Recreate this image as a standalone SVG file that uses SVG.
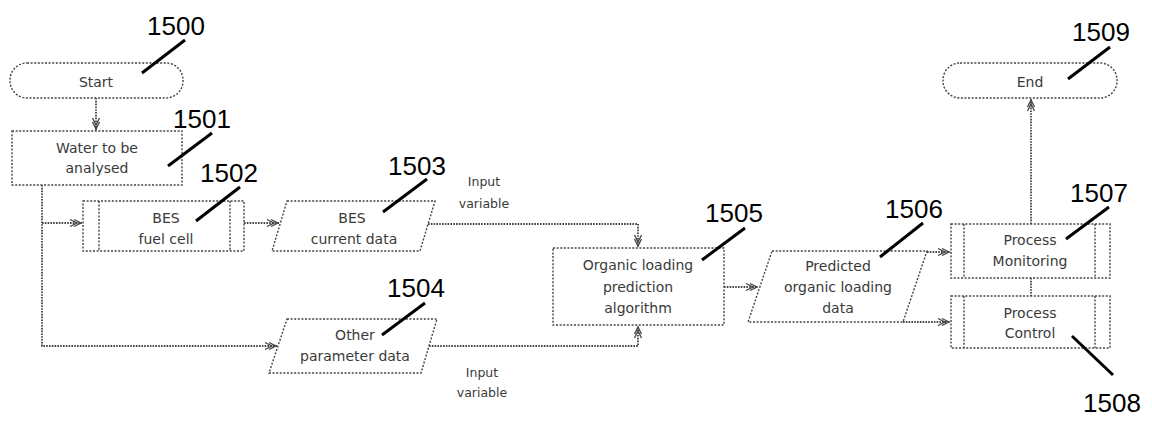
<svg xmlns="http://www.w3.org/2000/svg" width="1152" height="421" viewBox="0 0 1152 421">
<defs>
<marker id="arr" viewBox="-6 0 14 10" refX="7" refY="5" markerWidth="14" markerHeight="10" markerUnits="userSpaceOnUse" orient="auto">
<path d="M-5,1.5 L2,5 L-5,8.5 M-1,1.5 L6,5 L-1,8.5" fill="none" stroke="#444" stroke-width="1.3"/>
</marker>
</defs>
<style>
.box{fill:#fff;stroke:#444;stroke-width:1.4;stroke-dasharray:2 1.6}
.conn{fill:none;stroke:#444;stroke-width:1.8;stroke-dasharray:1.6 1.2}
.t{font-family:"DejaVu Sans",sans-serif;font-size:14px;fill:#3a3a3a;text-anchor:middle}
.s{font-family:"DejaVu Sans",sans-serif;font-size:12.5px;fill:#3a3a3a;text-anchor:middle}
.num{font-family:"Liberation Sans",Arial,sans-serif;font-size:26px;fill:#000}
.lead{stroke:#000;stroke-width:3;fill:none}
</style>
<g id="connectors">
<path class="conn" d="M96,98 V130" marker-end="url(#arr)"/>
<path class="conn" d="M42,185 V346 H277" marker-end="url(#arr)"/>
<path class="conn" d="M42,223 H82" marker-end="url(#arr)"/>
<path class="conn" d="M244,223 H279" marker-end="url(#arr)"/>
<path class="conn" d="M428,224 H638 V247" marker-end="url(#arr)"/>
<path class="conn" d="M429,346 H638 V326" marker-end="url(#arr)"/>
<path class="conn" d="M724,287 H758" marker-end="url(#arr)"/>
<path class="conn" d="M927,252 H950" marker-end="url(#arr)"/>
<path class="conn" d="M903,322 H950" marker-end="url(#arr)"/>
<path class="conn" d="M1031,278 V296"/>
<path class="conn" d="M1031,224 V99" marker-end="url(#arr)"/>
</g>
<g id="n1500">
<rect class="box" x="10" y="63" width="173" height="35" rx="17" ry="17"/>
<text class="t" x="96" y="87">Start</text>
<text class="num" x="147" y="35">1500</text>
<path class="lead" d="M185,40 L142,73"/>
</g>
<g id="n1501">
<rect class="box" x="12" y="131" width="170" height="54"/>
<text class="t" x="97" y="153">Water to be</text>
<text class="t" x="97" y="173">analysed</text>
<text class="num" x="173" y="128">1501</text>
<path class="lead" d="M212,133 L168,166"/>
</g>
<g id="n1502">
<rect class="box" x="83" y="201" width="161" height="50"/>
<path class="box" d="M99,201 V251 M230,201 V251"/>
<text class="t" x="166" y="223">BES</text>
<text class="t" x="166" y="244">fuel cell</text>
<text class="num" x="200" y="182">1502</text>
<path class="lead" d="M240,187 L196,221"/>
</g>
<g id="n1503">
<path class="box" d="M287,201 H435 L420,251 H272 Z"/>
<text class="t" x="352" y="223">BES</text>
<text class="t" x="354" y="244">current data</text>
<text class="num" x="388" y="175">1503</text>
<path class="lead" d="M427,179 L383,212"/>
</g>
<g id="n1504">
<path class="box" d="M287,319 H437 L421,373 H269 Z"/>
<text class="t" x="355" y="340">Other</text>
<text class="t" x="355" y="361">parameter data</text>
<text class="num" x="387" y="297">1504</text>
<path class="lead" d="M425,303 L382,335"/>
</g>
<g id="n1505">
<rect class="box" x="553" y="248" width="171" height="77"/>
<text class="t" x="638" y="270">Organic loading</text>
<text class="t" x="638" y="292">prediction</text>
<text class="t" x="638" y="313">algorithm</text>
<text class="num" x="705" y="222">1505</text>
<path class="lead" d="M745,228 L702,260"/>
</g>
<g id="n1506">
<path class="box" d="M772,251 H927 L903,322 H748 Z"/>
<text class="t" x="838" y="271">Predicted</text>
<text class="t" x="838" y="292">organic loading</text>
<text class="t" x="838" y="313">data</text>
<text class="num" x="885" y="218">1506</text>
<path class="lead" d="M923,223 L880,257"/>
</g>
<g id="n1507">
<rect class="box" x="951" y="224" width="159" height="54"/>
<path class="box" d="M964,224 V278 M1095,224 V278"/>
<text class="t" x="1030" y="245">Process</text>
<text class="t" x="1030" y="266">Monitoring</text>
<text class="num" x="1070" y="202">1507</text>
<path class="lead" d="M1109,207 L1066,239"/>
</g>
<g id="n1508">
<rect class="box" x="951" y="296" width="159" height="52"/>
<path class="box" d="M964,296 V348 M1095,296 V348"/>
<text class="t" x="1030" y="318">Process</text>
<text class="t" x="1030" y="338">Control</text>
<text class="num" x="1083" y="412">1508</text>
<path class="lead" d="M1113,375 L1072,336"/>
</g>
<g id="n1509">
<rect class="box" x="943" y="63" width="174" height="35" rx="17" ry="17"/>
<text class="t" x="1030" y="87">End</text>
<text class="num" x="1072" y="41">1509</text>
<path class="lead" d="M1110,47 L1068,79"/>
</g>
<g id="labels">
<text class="s" x="484" y="186">Input</text>
<text class="s" x="484" y="208">variable</text>
<text class="s" x="482" y="377">Input</text>
<text class="s" x="482" y="397">variable</text>
</g>
</svg>
